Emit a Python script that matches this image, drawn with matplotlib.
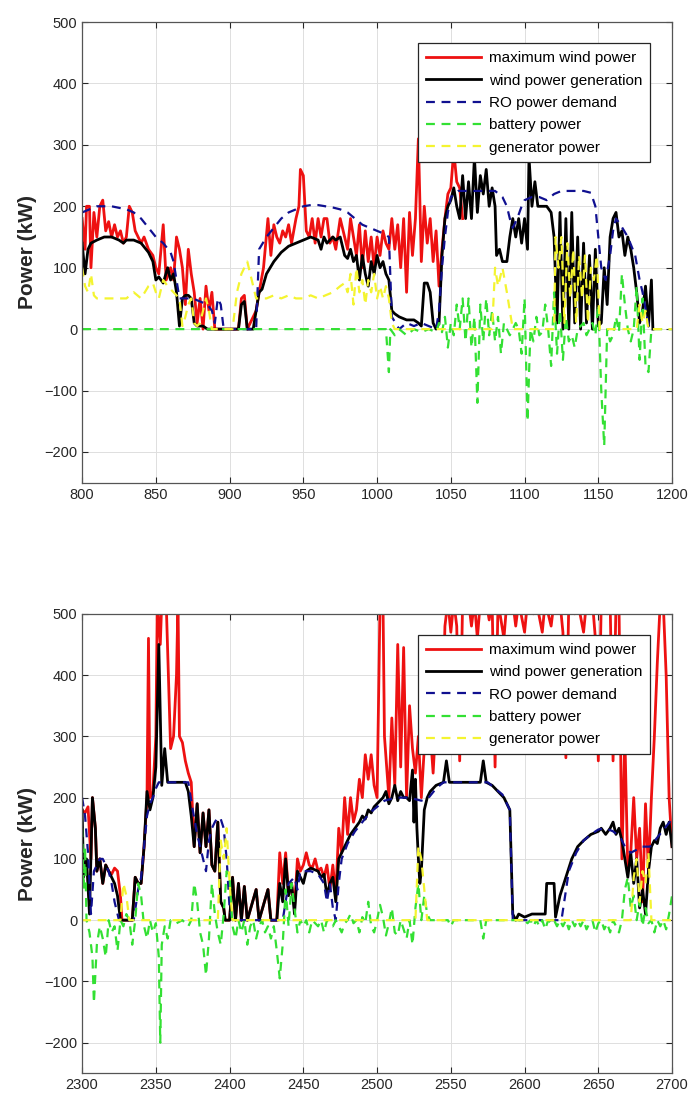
import matplotlib
matplotlib.use("Agg")
import matplotlib.pyplot as plt

plt.rcParams['font.family'] = ['Liberation Sans', 'DejaVu Sans']

# ---- top panel (t = 800..1200) ----
top_red_t = [800, 802, 803, 805, 806, 808, 810, 812, 814, 816, 818, 820, 822, 824, 826, 828, 830,
             832, 834, 836, 838, 840, 842, 845, 848, 850, 852, 855, 857, 860, 862, 864, 866, 868,
             870, 872, 874, 876, 878, 880, 882, 884, 886, 888, 890, 906, 908, 910, 912, 918, 920,
             923, 926, 928, 930, 932, 934, 936, 938, 940, 942, 945, 947, 948, 950, 952, 954, 956,
             958, 960, 962, 964, 966, 968, 970, 972, 975, 977, 980, 982, 984, 986, 988, 990, 992,
             994, 996, 998, 1000, 1002, 1004, 1006, 1008, 1010, 1012, 1014, 1016, 1018, 1020,
             1022, 1024, 1026, 1028, 1030, 1032, 1034, 1036, 1038, 1040, 1042, 1044, 1046, 1048,
             1050, 1052, 1054, 1056, 1058]
top_red_p = [180, 130, 200, 200, 100, 190, 150, 200, 210, 160, 175, 150, 170, 150, 160, 140, 150,
             200, 190, 160, 150, 140, 150, 130, 120, 100, 90, 170, 80, 100, 80, 150, 130, 100,
             40, 130, 90, 60, 10, 50, 0, 70, 30, 60, 0, 0, 50, 55, 0, 30, 60,
             100, 180, 120, 170, 150, 140, 160, 150, 170, 140, 180, 200, 260, 250, 160, 150, 180,
             140, 180, 150, 180, 180, 140, 150, 130, 180, 160, 130, 180, 150, 120, 170, 100, 160,
             110, 150, 100, 150, 120, 160, 140, 130, 180, 130, 170, 100, 180, 60,
             190, 120, 180, 310, 110, 200, 140, 180, 110, 160, 70, 130, 180, 220,
             230, 290, 240, 230, 180]

top_wind_t = [800, 802, 804, 806, 810, 815, 820, 825, 828, 830, 835, 840, 845, 848, 850, 852, 855,
              858, 860, 862, 864, 866, 868, 870, 872, 874, 876, 878, 880, 882, 885, 890, 900, 906,
              908, 910, 912, 916, 918, 920, 922, 925, 930, 935, 940, 945, 950, 955, 960, 962, 964,
              966, 968, 970, 972, 975, 978, 980, 982, 984, 986, 988, 990, 992, 994, 996, 998, 1000,
              1002, 1004, 1006, 1008, 1010, 1012, 1015, 1020, 1025, 1028, 1030, 1032, 1034, 1036,
              1038, 1040, 1042, 1044, 1046, 1048, 1050, 1052, 1054, 1056, 1058, 1060, 1062, 1064,
              1066, 1068, 1070, 1072, 1074, 1076, 1078, 1080, 1081, 1083, 1085, 1088, 1090, 1092,
              1094, 1096, 1098, 1100, 1102, 1103, 1105, 1107, 1109, 1112, 1115, 1118, 1120, 1122,
              1124, 1126, 1128, 1130, 1132, 1134, 1136, 1138, 1140, 1142, 1144, 1146, 1148, 1150,
              1152, 1154, 1156, 1158, 1160, 1162, 1164, 1166, 1168, 1170, 1172, 1174, 1176, 1178,
              1180, 1182, 1184, 1186, 1187]
top_wind_p = [140, 90, 130, 140, 145, 150, 150, 145, 140, 145, 145, 140, 125, 110, 80, 85, 75,
              100, 80, 90, 60, 5, 50, 55, 55, 50, 10, 5, 5, 5, 0, 0, 0, 0,
              40, 45, 0, 0, 30, 60, 65, 90, 110, 125, 135, 140, 145, 150, 145, 130, 150,
              140, 145, 150, 145, 150, 120, 115, 130, 110, 120, 80, 120, 90, 70, 110, 90, 120,
              100, 110, 90, 80, 30, 25, 20, 15, 15, 10, 5, 75, 75, 60,
              10, 0, 10, 120, 180, 200, 210, 230, 200, 180, 250, 180, 240, 180,
              280, 190, 250, 220, 260, 200, 230, 200, 120, 130, 110, 110, 150, 180,
              150, 180, 140, 180, 130, 280, 200, 240, 200, 200, 200, 190, 150, 10,
              190, 0, 180, 0, 190, 10, 150, 0, 140, 10, 120, 0, 130, 5,
              10, 100, 40, 150, 180, 190, 150, 160, 120, 150, 130, 100, 60, 10,
              30, 70, 5, 80, 0]

top_ro_t = [800, 805, 810, 820, 830, 835, 840, 845, 850, 855, 860, 862, 864, 866, 870, 875, 880,
            885, 888, 890, 892, 894, 896, 918, 920, 925, 930, 935, 940, 945, 950, 955, 960, 965,
            970, 975, 980, 985, 990, 995, 1000, 1005, 1008, 1010, 1015, 1020, 1025, 1030, 1035,
            1040, 1042, 1044, 1046, 1048, 1050, 1055, 1060, 1070, 1080, 1085, 1088, 1090, 1092,
            1095, 1098, 1100, 1105, 1110, 1115, 1120, 1125, 1130, 1140, 1145, 1148, 1150, 1152,
            1155, 1158, 1160, 1162, 1165, 1170, 1175, 1178, 1180, 1183, 1185]
top_ro_p = [190, 195, 200, 200, 195, 190, 180, 165, 150, 140, 125, 110, 80, 50, 50, 50, 45,
            40, 30, 10, 50, 40, 0, 0, 130, 150, 165, 180, 190, 195, 200, 202, 202, 200,
            198, 195, 190, 180, 170, 165, 160, 155, 150, 20, 0, 10, 5, 10, 5,
            0, 30, 100, 150, 190, 215, 225, 225, 225, 225, 215, 200, 180, 165,
            180, 200, 210, 215, 215, 210, 220, 225, 225, 225, 222, 200, 150, 100,
            80, 120, 160, 180, 170, 150, 120, 80, 60, 20, 0]

top_bat_t = [800, 1006, 1008, 1009, 1012, 1015, 1020, 1025, 1030, 1035, 1040, 1042, 1044, 1046,
             1048, 1050, 1052, 1054, 1056, 1058, 1060, 1062, 1064, 1066, 1068, 1070, 1072, 1074,
             1076, 1078, 1080, 1082, 1084, 1086, 1088, 1090, 1092, 1094, 1096, 1098, 1100, 1102,
             1104, 1106, 1108, 1110, 1112, 1114, 1116, 1118, 1120, 1122, 1124, 1126, 1128, 1130,
             1132, 1134, 1136, 1140, 1142, 1144, 1146, 1148, 1150, 1152, 1154, 1156, 1158, 1160,
             1162, 1164, 1166, 1168, 1170, 1172, 1174, 1176, 1178, 1180, 1182, 1184, 1186, 1200]
top_bat_p = [0, 0, -70, 0, -10, 0, -10, 0, -5, 0, -5, 10, -5, 20,
             -30, 10, -10, 40, 0, 50, -20, 50, -30, 20, -120, 40, -20, 50,
             -10, 30, -20, 20, -40, 10, 0, -10, 0, 10, 0, -40, 50, -150,
             0, -20, 20, -10, -5, 40, 0, -60, 60, -40, 30, -50, 20, -20,
             -10, -30, 0, 10, -10, 0, 10, -10, 40, -100, -190, 0, -20, -10,
             20, -5, 90, 40, 0, -20, 0, 70, -50, 50, -60, -70, 0, 0]

top_gen_t = [800, 802, 804, 806, 808, 810, 815, 820, 825, 830, 835, 840, 845, 848, 850, 852, 855,
             858, 862, 866, 868, 870, 872, 874, 876, 878, 880, 884, 886, 888, 902, 905, 908, 912,
             915, 918, 920, 925, 930, 935, 940, 945, 950, 955, 960, 965, 970, 975, 978, 980, 982,
             984, 986, 988, 990, 992, 994, 996, 998, 1000, 1002, 1004, 1006, 1008, 1010, 1012,
             1078, 1080, 1082, 1085, 1088, 1090, 1092, 1120, 1121, 1123, 1125, 1127, 1129, 1131,
             1133, 1135, 1137, 1139, 1141, 1143, 1145, 1147, 1149, 1151, 1176, 1178, 1180, 1182,
             1184, 1200]
top_gen_p = [100, 70, 60, 90, 55, 50, 50, 50, 50, 50, 60, 50, 70, 75, 60, 50, 80,
             70, 60, 50, 5, 20, 40, 50, 10, 5, 10, 50, 30, 0, 0, 60, 90, 110,
             80, 50, 50, 50, 55, 50, 55, 50, 50, 55, 50, 55, 60, 70, 75, 60, 90,
             40, 100, 60, 80, 40, 80, 60, 90, 50, 70, 50, 70, 50, 10, 0,
             0, 100, 70, 100, 60, 30, 0, 0, 150, 100, 150, 10, 140, 50,
             130, 10, 120, 50, 120, 10, 100, 80, 120, 0, 0, 40, 10, 30,
             0, 0]

# ---- bottom panel (t = 2300..2700) ----
bot_red_t = [2300, 2302, 2304, 2306, 2307, 2309, 2310, 2312, 2314, 2316, 2318, 2320, 2322, 2324,
             2326, 2327, 2334, 2336, 2338, 2340, 2342, 2344, 2345, 2346, 2348, 2350, 2351, 2353,
             2354, 2357, 2358, 2360, 2362, 2364, 2365, 2366, 2368, 2370, 2372, 2374, 2376, 2378,
             2380, 2382, 2384, 2386, 2388, 2390, 2392, 2394, 2396, 2397, 2400, 2402, 2404, 2406,
             2408, 2410, 2412, 2418, 2420, 2426, 2428, 2432, 2434, 2436, 2438, 2440, 2442, 2444,
             2446, 2448, 2450, 2452, 2454, 2456, 2458, 2460, 2462, 2464, 2466, 2468, 2470, 2472,
             2474, 2476, 2478, 2480, 2482, 2484, 2486, 2488, 2490, 2492, 2494, 2496, 2498, 2500,
             2502, 2504, 2505, 2508, 2510, 2512, 2514, 2516, 2518, 2520, 2522, 2524, 2526, 2528,
             2530, 2532, 2534, 2536, 2538, 2540, 2542, 2544, 2546, 2548, 2550, 2552, 2554, 2556,
             2558, 2562, 2564, 2566, 2568, 2570, 2574, 2576, 2578, 2580, 2582, 2586, 2588, 2592,
             2594, 2596, 2600, 2602, 2606, 2608, 2612, 2614, 2618, 2620, 2624, 2626, 2628, 2630,
             2634, 2636, 2640, 2642, 2646, 2648, 2650, 2652, 2656, 2658, 2660, 2662, 2664, 2666,
             2668, 2670, 2672, 2674, 2676, 2678, 2680, 2682, 2684, 2686, 2688, 2690, 2692, 2694,
             2696, 2698, 2700]
bot_red_p = [180, 175, 185, 100, 200, 150, 80, 100, 60, 90, 80, 75, 85, 80,
             40, 0, 0, 70, 60, 60, 120, 200, 460, 200, 210, 300, 520, 450,
             520, 520, 440, 280, 300, 400, 520, 300, 290, 260, 240, 225, 120, 190,
             110, 175, 120, 180, 90, 80, 160, 30, 20, 0, 0, 70, 0, 60,
             0, 55, 0, 50, 0, 50, 0, 0, 110, 60, 110, 40, 60, 20,
             100, 80, 90, 110, 90, 85, 100, 80, 85, 70, 90, 50, 90, 40,
             150, 110, 200, 140, 200, 160, 180, 230, 200, 270, 230, 270, 220, 200,
             520, 520, 300, 200, 330, 220, 450, 250, 445, 200, 350, 280, 240, 300,
             200, 280, 340, 310, 240, 330, 380, 290, 480, 520, 470, 520, 480, 260,
             520, 520, 480, 520, 460, 520, 520, 490, 520, 250, 520, 460, 520, 520,
             480, 520, 470, 520, 500, 520, 470, 520, 480, 520, 520, 470, 265, 520,
             500, 520, 470, 520, 520, 460, 260, 520, 500, 520, 260, 520, 520, 100,
             300, 80, 110, 200, 100, 150, 30, 190, 80, 200, 300, 420, 520, 520,
             400, 200, 120]

bot_wind_t = [2300, 2301, 2303, 2305, 2307, 2309, 2310, 2312, 2314, 2316, 2318, 2320, 2322, 2324,
              2326, 2334, 2336, 2338, 2340, 2342, 2344, 2346, 2348, 2350, 2352, 2354, 2356, 2358,
              2370, 2372, 2374, 2376, 2378, 2380, 2382, 2384, 2386, 2388, 2390, 2392, 2394, 2396,
              2397, 2400, 2402, 2404, 2406, 2408, 2410, 2412, 2418, 2420, 2426, 2428, 2432, 2434,
              2436, 2438, 2440, 2442, 2444, 2446, 2448, 2450, 2452, 2455, 2460, 2462, 2464, 2466,
              2468, 2470, 2472, 2474, 2476, 2478, 2480, 2482, 2485, 2488, 2490, 2492, 2494, 2496,
              2498, 2500, 2502, 2504, 2506, 2508, 2510, 2512, 2514, 2516, 2518, 2520, 2522, 2524,
              2525, 2526, 2527, 2528, 2529, 2530, 2532, 2534, 2536, 2540, 2545, 2547, 2549, 2570,
              2572, 2574, 2578, 2582, 2586, 2590, 2592, 2594, 2596, 2600, 2605, 2614, 2615, 2620,
              2621, 2624, 2628, 2632, 2636, 2640, 2645, 2650, 2652, 2655, 2658, 2660, 2662, 2664,
              2666, 2668, 2670, 2672, 2674, 2676, 2678, 2680, 2682, 2684, 2686, 2688, 2690, 2692,
              2694, 2696, 2698, 2700]
bot_wind_p = [180, 70, 100, 10, 200, 150, 80, 100, 60, 90, 80, 70, 60, 40,
              0, 0, 70, 60, 60, 120, 210, 180, 200, 250, 450, 220, 280, 225,
              225, 210, 170, 120, 190, 110, 175, 120, 180, 90, 80, 160, 30, 20,
              0, 0, 70, 0, 60, 0, 55, 0, 50, 0, 50, 0, 0, 60,
              30, 100, 40, 60, 10, 80, 70, 60, 80, 85, 80, 70, 75, 40,
              60, 70, 30, 100, 110, 120, 130, 140, 150, 160, 170, 165, 180, 175,
              185, 190, 195, 200, 210, 190, 200, 220, 195, 210, 200, 200, 195, 245,
              160, 230, 150, 100, 60, 80, 180, 200, 210, 220, 225, 260, 225, 225,
              260, 225, 220, 210, 200, 180, 10, 0, 10, 5, 10, 10, 60, 60,
              5, 40, 70, 100, 120, 130, 140, 145, 150, 140, 150, 160, 140, 150,
              130, 100, 70, 110, 60, 100, 20, 50, 10, 80, 120, 130, 125, 150,
              160, 140, 160, 120]

bot_ro_t = [2300, 2302, 2304, 2306, 2308, 2310, 2312, 2314, 2316, 2318, 2320, 2322, 2325, 2335,
            2338, 2340, 2342, 2344, 2346, 2348, 2350, 2352, 2372, 2375, 2378, 2380, 2382, 2384,
            2386, 2388, 2390, 2392, 2394, 2396, 2398, 2400, 2402, 2436, 2440, 2444, 2446, 2448,
            2455, 2460, 2464, 2466, 2468, 2470, 2472, 2474, 2476, 2480, 2485, 2490, 2495, 2500,
            2505, 2510, 2515, 2520, 2525, 2530, 2535, 2540, 2545, 2575, 2580, 2585, 2590, 2592,
            2625, 2630, 2635, 2640, 2645, 2650, 2655, 2660, 2665, 2668, 2672, 2676, 2680, 2685,
            2690, 2695, 2700]
bot_ro_p = [200, 170, 110, 10, 80, 90, 100, 100, 90, 80, 60, 30, 0, 0,
            50, 70, 120, 170, 190, 200, 215, 225, 225, 180, 140, 120, 100, 80,
            130, 150, 160, 168, 165, 150, 100, 20, 0, 0, 60, 70, 50, 80,
            80, 75, 60, 30, 60, 20, 0, 60, 100, 125, 145, 160, 175, 185,
            195, 198, 200, 200, 198, 195, 200, 215, 225, 225, 215, 205, 180, 0,
            0, 80, 110, 130, 140, 148, 150, 145, 135, 120, 110, 115, 120, 120,
            135, 150, 165]

bot_bat_t = [2300, 2301, 2302, 2303, 2305, 2307, 2308, 2310, 2312, 2314, 2316, 2318, 2320, 2322,
             2324, 2326, 2328, 2330, 2332, 2334, 2336, 2338, 2340, 2342, 2344, 2346, 2348, 2350,
             2352, 2353, 2354, 2356, 2358, 2360, 2364, 2368, 2372, 2374, 2376, 2378, 2380, 2382,
             2384, 2386, 2388, 2390, 2392, 2394, 2396, 2398, 2400, 2402, 2404, 2406, 2408, 2410,
             2412, 2414, 2416, 2418, 2420, 2422, 2424, 2426, 2428, 2430, 2432, 2434, 2436, 2438,
             2440, 2442, 2444, 2446, 2448, 2450, 2452, 2454, 2456, 2458, 2460, 2462, 2464, 2466,
             2468, 2470, 2472, 2476, 2478, 2480, 2482, 2484, 2486, 2488, 2490, 2492, 2494, 2496,
             2498, 2500, 2502, 2504, 2506, 2508, 2510, 2512, 2514, 2516, 2518, 2520, 2522, 2524,
             2526, 2528, 2530, 2532, 2534, 2536, 2548, 2550, 2552, 2570, 2572, 2574, 2600, 2602,
             2604, 2606, 2608, 2610, 2612, 2614, 2616, 2618, 2620, 2622, 2624, 2626, 2628, 2630,
             2632, 2634, 2636, 2638, 2640, 2642, 2644, 2646, 2648, 2650, 2652, 2654, 2656, 2658,
             2660, 2662, 2664, 2666, 2668, 2670, 2672, 2674, 2676, 2678, 2680, 2682, 2684, 2686,
             2688, 2690, 2692, 2694, 2696, 2698, 2700]
bot_bat_p = [150, 50, 120, 0, -20, -60, -135, -40, -10, -30, -60, 0, -20, -10,
             -50, 0, -10, 10, 0, -40, 0, 60, 40, -10, -30, 0, -20, -5,
             -60, -200, -40, -10, -30, 0, -5, 0, -10, 0, 60, 30, -20, -40,
             -90, -30, 60, 10, -20, -40, 10, 80, 70, -10, -30, 0, -20, 0,
             -40, -10, 0, -30, -10, 0, -20, -10, -30, -10, -50, -95, -40, 50,
             -10, 60, 20, -20, 0, -10, 0, -20, 0, -5, -10, 0, -20, 0,
             -5, -10, 0, -20, -5, 0, 10, -5, 0, -20, 5, -5, 30, -10,
             -20, 0, 25, 5, -25, -5, 20, -20, -25, 0, -15, -30, 0, -40,
             20, 60, 0, 40, 10, 0, 0, -10, 0, 0, -30, 0, 0, -5,
             0, -10, 0, -10, 0, -15, 0, -5, 0, -10, 0, -10, 0, -15,
             0, -10, 0, -10, 0, -15, -5, 0, -20, -5, 0, -15, -5, -20,
             0, -10, -20, 0, 50, 70, 20, 40, 0, 30, -10, 20, -5, 0,
             -20, 0, -10, 0, -15, 10, 40]

bot_gen_t = [2300, 2326, 2328, 2330, 2332, 2392, 2394, 2396, 2398, 2400, 2402, 2526, 2528, 2530,
             2532, 2534, 2672, 2674, 2676, 2678, 2680, 2682, 2684, 2686, 2700]
bot_gen_p = [0, 0, 60, 40, 0, 0, 130, 100, 150, 60, 0, 0, 120, 100,
             50, 0, 0, 70, 100, 30, 80, 60, 110, 0, 0]

panels = [
    (top_red_t, top_red_p, top_wind_t, top_wind_p, top_ro_t, top_ro_p,
     top_bat_t, top_bat_p, top_gen_t, top_gen_p, (800, 1200)),
    (bot_red_t, bot_red_p, bot_wind_t, bot_wind_p, bot_ro_t, bot_ro_p,
     bot_bat_t, bot_bat_p, bot_gen_t, bot_gen_p, (2300, 2700)),
]
axes_boxes = [[0.119, 0.562, 0.855, 0.418], [0.119, 0.026, 0.855, 0.417]]

fig = plt.figure(figsize=(6.9, 11.02), dpi=100)

for box, p in zip(axes_boxes, panels):
    rt, rp, wt, wp, ot, op, bt, bp, gt, gp, xr = p
    ax = fig.add_axes(box)
    ax.plot(rt, rp, color='#ee1111', lw=2.0, label='maximum wind power')
    ax.plot(wt, wp, color='black', lw=2.0, label='wind power generation')
    ax.plot(ot, op, color='#101090', lw=1.6, ls=(0, (4, 3)), label='RO power demand')
    ax.plot(bt, bp, color='#33e033', lw=1.6, ls=(0, (4, 3)), label='battery power')
    ax.plot(gt, gp, color='#f4f430', lw=1.6, ls=(0, (4, 3)), label='generator power')

    ax.set_xlim(*xr)
    ax.set_ylim(-250, 500)
    ax.set_xticks(range(xr[0], xr[1] + 1, 50))
    ax.set_yticks(range(-200, 501, 100))
    ax.grid(True, color='#dedede', lw=0.7)
    ax.set_axisbelow(True)
    ax.tick_params(direction='in', top=True, right=True, labelsize=10.5,
                   colors='#262626', length=4)
    for s in ax.spines.values():
        s.set_color('#555555')
        s.set_linewidth(0.9)
    ax.set_ylabel('Power (kW)', fontsize=15, fontweight='bold', color='#262626', labelpad=5)

    leg = ax.legend(loc='upper right', bbox_to_anchor=(0.975, 0.97), fontsize=11,
                    handlelength=3.6, labelspacing=0.55, borderpad=0.5, handletextpad=0.5,
                    fancybox=False, framealpha=1, edgecolor='#262626')
    leg.get_frame().set_linewidth(0.9)

plt.savefig('out.png', dpi=100)
